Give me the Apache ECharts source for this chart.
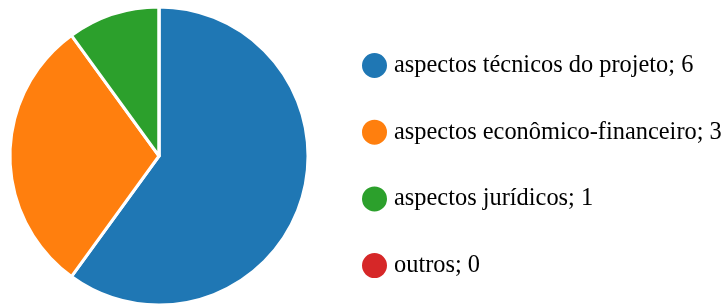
<!DOCTYPE html>
<html>
<head>
<meta charset="utf-8">
<script src="https://cdn.jsdelivr.net/npm/echarts@6/dist/echarts.min.js"></script>
<style>
html,body{margin:0;padding:0;background:#fff;}
#chart{width:724px;height:306px;}
</style>
</head>
<body>
<div id="chart"></div>
<script>
// categorias e valores
var categorias = ['aspectos técnicos do projeto', 'aspectos econômico-financeiro', 'aspectos jurídicos', 'outros'];
var valores = [6, 3, 1, 0];
var cores = ['#1f77b4', '#ff7f0e', '#2ca02c', '#d62728'];

var dados = [];
for (var i = 0; i < categorias.length; i++) {
	dados.push({ name: categorias[i], value: valores[i] });
}

var chart = echarts.init(document.getElementById('chart'));
var option = {
	animation: false,
	color: cores,
	legend: {
		orient: 'vertical',
		left: 355,
		top: 46,
		icon: 'circle',
		itemWidth: 27,
		itemHeight: 27,
		itemGap: 37.7,
		textStyle: {
			fontFamily: '"Liberation Serif", "Times New Roman", serif',
			fontSize: 24.4,
			lineHeight: 27,
			color: '#000',
			padding: [2, 0, 0, 1]
		},
		formatter: function (name) {
			var idx = categorias.indexOf(name);
			return name + '; ' + valores[idx];
		}
	},
	series: [{
		type: 'pie',
		center: [159, 156],
		radius: 149,
		startAngle: 90,
		clockwise: true,
		label: { show: false },
		labelLine: { show: false },
		itemStyle: { borderColor: '#fff', borderWidth: 3 },
		data: dados
	}]
};
chart.setOption(option);
</script>
</body>
</html>
